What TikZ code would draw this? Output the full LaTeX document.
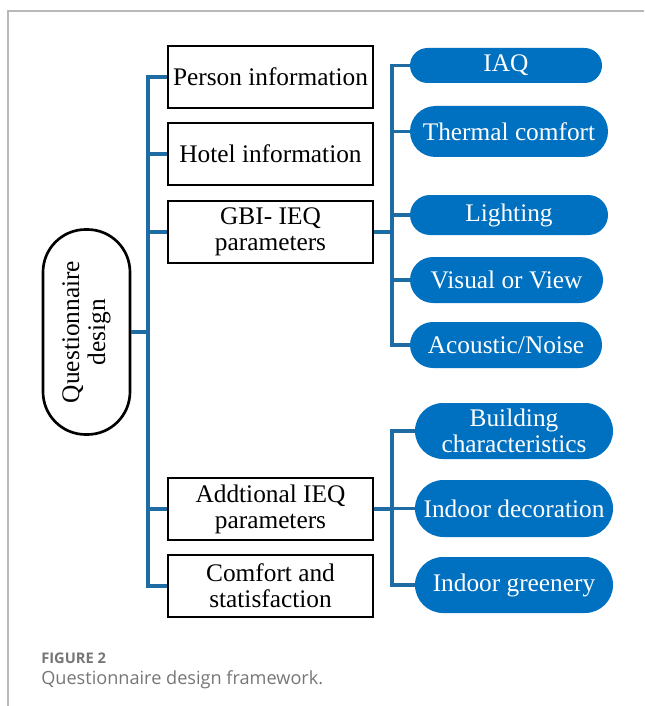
\documentclass[tikz,border=0pt]{standalone}
\usepackage{fontspec}
\setmainfont{Liberation Serif}
\newfontfamily\capfont{Open Sans}
\usetikzlibrary{positioning}
\definecolor{linkblue}{RGB}{31,107,163}
\definecolor{pillblue}{RGB}{0,112,192}
\definecolor{capgray}{RGB}{118,118,118}

\begin{document}
\begin{tikzpicture}[x=0.75pt,y=-0.75pt,font=\fontsize{19}{19.5}\selectfont,
  box/.style={draw,line width=2pt,minimum width=153.75pt,minimum height=46.5pt,align=center,inner sep=1pt},
  pill/.style={fill=pillblue,text=white,align=center,inner sep=1pt,rounded corners=#1},
  link/.style={draw=linkblue,line width=2.6pt}]
  \useasboundingbox (0,0) rectangle (644,706);
  % frame
  \draw[gray!55,line width=0.9pt] (8,706) -- (8,11) -- (644,11);
  % root
  \node[draw,line width=2pt,rotate=90,minimum width=153.75pt,minimum height=65.25pt,
        rounded corners=32pt,align=center,inner sep=1pt] (main) at (86.5,332) {Questionnaire\\design};
  % first level
  \foreach \nm/\y/\txt in {person/77/Person information,hotel/154/Hotel information,
      gbi/232/{GBI- IEQ\\parameters},extra/509/{Addtional IEQ\\parameters},
      comfort/586/{Comfort and\\statisfaction}}
    \node[box] (\nm) at (270.5,\y) {\txt};
  % second level
  \foreach \nm/\x/\y/\w/\h/\txt in {iaq/506/65.5/144/26.25/IAQ,thermal/509/131.5/148.5/38.25/Thermal comfort,
      lighting/509/215/148.5/30/Lighting,visual/506.5/280/144.75/34.5/Visual or View,
      acoustic/506/345/144/34.5/{Acoustic/Noise},
      building/514/431/148.5/42/{Building\\characteristics},decor/514/508.5/148.5/42.75/Indoor decoration,
      green/514/585/148.5/42/Indoor greenery}
    \node[pill=\h pt/2,minimum width=\w pt,minimum height=\h pt] (\nm) at (\x,\y) {\txt};
  % connectors
  \coordinate (trunk) at (148,332);
  \coordinate (fork1) at (392,232);
  \coordinate (fork2) at (392,509);
  \foreach \b in {person,hotel,gbi,extra,comfort}
    \draw[link] (main.south) -- (trunk) |- (\b.west);
  \foreach \p in {iaq,thermal,lighting,visual,acoustic}
    \draw[link] (gbi.east) -- (fork1) |- (\p.west);
  \foreach \p in {building,decor,green}
    \draw[link] (extra.east) -- (fork2) |- (\p.west);
  % caption
  \node[anchor=base west,inner sep=0pt,text=capgray,font=\capfont\bfseries\fontsize{11}{12}\selectfont] (fignum) at (41,663) {FIGURE 2};
  \node[anchor=base west,inner sep=0pt,text=capgray,font=\capfont\fontsize{13.6}{15}\selectfont] (figcap) at (41,684) {Questionnaire design framework.};
\end{tikzpicture}
\end{document}
